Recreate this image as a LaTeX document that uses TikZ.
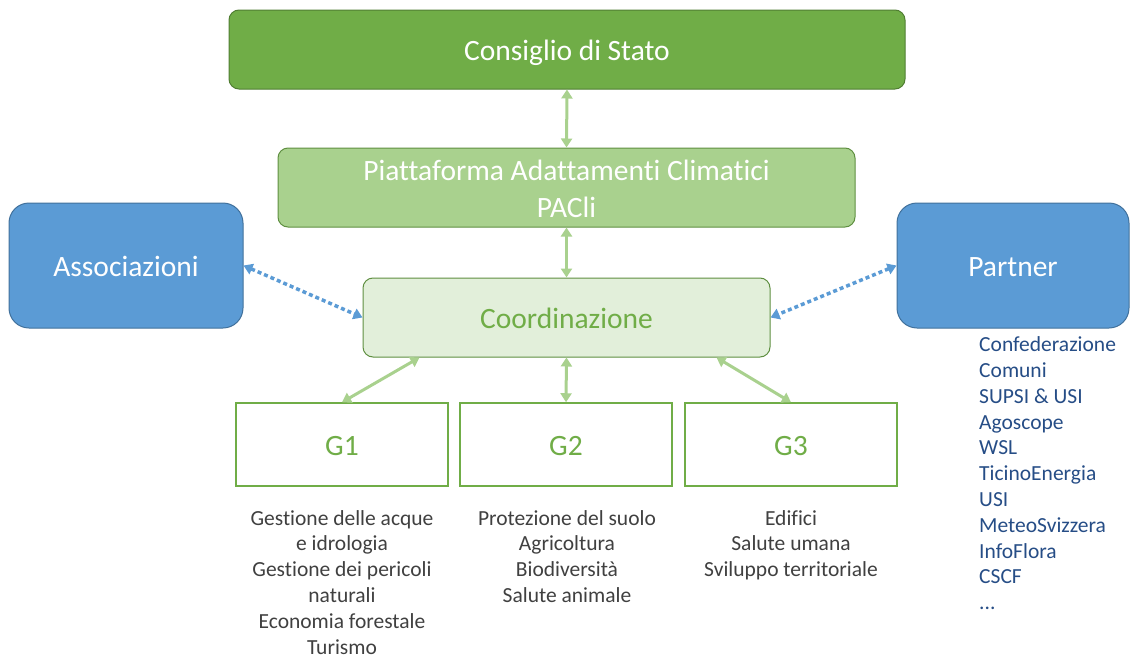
\documentclass[tikz,border=0pt]{standalone}
\usepackage{fontspec}
\setmainfont{Carlito}[RawFeature={-liga;-clig;-dlig;-calt}]
\usetikzlibrary{arrows.meta}
\definecolor{dkgreen}{HTML}{70AD47}
\definecolor{dkgreenline}{HTML}{507E32}
\definecolor{ltgreen}{HTML}{A9D18E}
\definecolor{ltgreenline}{HTML}{5F8F41}
\definecolor{pale}{HTML}{E2EFDA}
\definecolor{blu}{HTML}{5B9BD5}
\definecolor{bluline}{HTML}{41719C}
\definecolor{greytext}{HTML}{404040}
\definecolor{partnertext}{HTML}{264D86}
\tikzset{
  bigfont/.style={font=\fontsize{29.5}{37}\selectfont},
  oneline/.style={text height=24pt, text depth=3pt},
  listfont/.style={font=\fontsize{21.5}{25.8}\selectfont},
  topbox/.style={draw=dkgreenline, fill=dkgreen, line width=1pt, rounded corners=10pt, inner sep=0pt, text=white, bigfont, oneline},
  midbox/.style={draw=ltgreenline, fill=ltgreen, line width=1pt, rounded corners=10pt, inner sep=0pt, text=white, bigfont, align=center},
  coordbox/.style={draw=ltgreenline, fill=pale, line width=1pt, rounded corners=10pt, inner sep=0pt, text=dkgreen, bigfont, oneline},
  sidebox/.style={draw=bluline, fill=blu, line width=1pt, rounded corners=20pt, inner sep=0pt, text=white, bigfont, oneline},
  gbox/.style={draw=dkgreen, fill=white, line width=1.5pt, inner sep=0pt, text=dkgreen, bigfont, oneline},
  glist/.style={listfont, text=greytext, align=center, inner sep=0pt, anchor=north},
  plist/.style={listfont, text=partnertext, align=left, inner sep=0pt, anchor=north west},
  solidlink/.style={draw=ltgreen, line width=3pt, {Triangle[length=9pt,width=11pt]}-{Triangle[length=9pt,width=11pt]}},
  dotlink/.style={draw=blu, line width=3.5pt, dash pattern=on 4pt off 3pt, {Triangle[length=9pt,width=11pt]}-{Triangle[length=9pt,width=11pt]}},
}
\begin{document}
\begin{tikzpicture}[x=1pt,y=-1pt]
\useasboundingbox (0,0) rectangle (1130,656);
\node[topbox, minimum width=676pt, minimum height=79pt] (cons) at (567,49.5) {Consiglio di Stato};
\node[midbox, minimum width=577pt, minimum height=79pt] (paci) at (566.5,187.5) {\raisebox{-4pt}[\height][\depth]{\begin{tabular}{@{}c@{}}Piattaforma Adattamenti Climatici\\[-0.5pt]PACli\end{tabular}}};
\node[sidebox, minimum width=234pt, minimum height=125pt] (assoc) at (126,265.5) {Associazioni};
\node[sidebox, minimum width=232pt, minimum height=125pt] (partner) at (1013,265.5) {Partner};
\node[coordbox, minimum width=407pt, minimum height=79pt] (coord) at (566.5,317.5) {Coordinazione};
\node[gbox, minimum width=212pt, minimum height=83pt] (g1) at (342,444.5) {G1};
\node[gbox, minimum width=212pt, minimum height=83pt] (g2) at (566,444.5) {G2};
\node[gbox, minimum width=212pt, minimum height=83pt] (g3) at (791,444.5) {G3};

\node[glist] (l1) at (342,510) {Gestione delle acque\\e idrologia\\Gestione dei pericoli\\naturali\\Economia forestale\\Turismo};
\node[glist] (l2) at (567,510) {Protezione del suolo\\Agricoltura\\Biodiversità\\Salute animale};
\node[glist] (l3) at (791,510) {Edifici\\Salute umana\\Sviluppo territoriale};
\node[plist] (pl) at (979,336.5) {Confederazione\\Comuni\\SUPSI \& USI\\Agoscope\\WSL\\TicinoEnergia\\USI\\MeteoSvizzera\\InfoFlora\\CSCF\\...};

\draw[solidlink] (cons.south) -- (paci.north);
\draw[solidlink] (paci.south) -- (coord.north);
\draw[solidlink] ([xshift=-147pt]coord.south) -- (g1.north);
\draw[solidlink] (coord.south) -- (g2.north);
\draw[solidlink] ([xshift=150pt]coord.south) -- (g3.north);
\draw[dotlink] (assoc.east) -- (coord.west);
\draw[dotlink] (partner.west) -- (coord.east);
\end{tikzpicture}
\end{document}
